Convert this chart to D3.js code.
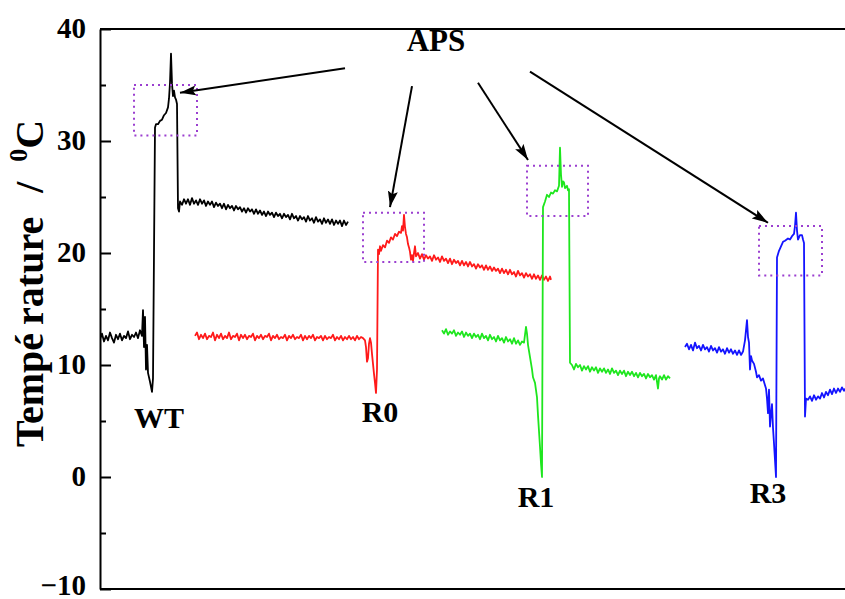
<!DOCTYPE html>
<html><head><meta charset="utf-8">
<script src="https://cdn.jsdelivr.net/npm/d3@7"></script>
<style>body{margin:0;background:#fff}svg{display:block}</style>
</head><body>
<svg id="chart" width="845" height="599"></svg>
<script>
// ---- data (time index, temperature °C) ----
const yTicks = [-10, 0, 10, 20, 30, 40];
const yMinorTicks = [-5, 5, 15, 25, 35];
const sampleNames = ["WT", "R0", "R1", "R3"];
const sampleColors = ["#000000", "#ff1a1a", "#1ee61e", "#1414ff"];

const wtData = [[0,12.3],[2,12.8],[4,12.1],[6,12.6],[8,12.2],[10,12.9],[12,12.4],[14,12.0],[16,12.7],[18,12.3],[20,12.8],[22,12.2],[24,12.6],[26,12.4],[28,13.0],[30,12.3],[32,12.7],[34,12.5],[36,12.9],[38,12.4],[40,13.1],[42,12.6],[43,14.9],[44,11.6],[45,14.3],[46,9.6],[47,11.8],[48,9.3],[50,8.5],[52,7.6],[53,8.8],[55,31.2],[56,31.5],[58,31.5],[60,31.8],[62,31.9],[64,32.3],[66,32.5],[68,33.0],[69,33.8],[70,35.2],[71,37.8],[72,35.1],[73,34.0],[74,34.5],[75,33.9],[76,33.7],[77,33.3],[78,24.0],[79,23.7],[80,24.6],[82,24.3],[84,24.8],[86,24.4],[88,24.8],[90,24.3],[92,24.9],[94,24.4],[96,24.7],[98,24.3],[100,24.8],[102,24.4],[104,24.7],[106,24.2],[108,24.6],[110,24.3],[112,24.6],[114,24.1],[116,24.5],[118,24.2],[120,24.4],[122,24.0],[124,24.4],[126,23.9],[128,24.3],[130,24.0],[132,24.2],[134,23.8],[136,24.2],[138,23.9],[140,24.1],[142,23.7],[144,24.0],[146,23.6],[148,24.0],[150,23.7],[152,23.9],[154,23.5],[156,23.9],[158,23.5],[160,23.8],[162,23.4],[164,23.7],[166,23.3],[168,23.7],[170,23.4],[172,23.6],[174,23.2],[176,23.6],[178,23.3],[180,23.5],[182,23.1],[184,23.5],[186,23.2],[188,23.4],[190,23.0],[192,23.5],[194,23.1],[196,23.3],[198,22.9],[200,23.3],[202,23.0],[204,23.2],[206,22.8],[208,23.3],[210,22.9],[212,23.1],[214,22.7],[216,23.2],[218,22.8],[220,23.0],[222,22.6],[224,23.1],[226,22.7],[228,23.0],[230,22.6],[232,23.0],[234,22.5],[236,22.9],[238,22.6],[240,22.9],[242,22.4],[244,22.9],[246,22.5],[248,22.8]];

const r0Data = [[95,12.6],[97,12.9],[99,12.3],[101,12.7],[103,12.4],[105,12.8],[107,12.3],[109,12.6],[111,12.5],[113,12.9],[115,12.2],[117,12.7],[119,12.4],[121,12.8],[123,12.3],[125,12.6],[127,12.4],[129,12.9],[131,12.3],[133,12.6],[135,12.5],[137,12.8],[139,12.2],[141,12.7],[143,12.4],[145,12.7],[147,12.3],[149,12.6],[151,12.5],[153,12.8],[155,12.2],[157,12.6],[159,12.4],[161,12.7],[163,12.3],[165,12.6],[167,12.5],[169,12.8],[171,12.2],[173,12.6],[175,12.4],[177,12.7],[179,12.3],[181,12.5],[183,12.4],[185,12.7],[187,12.2],[189,12.6],[191,12.4],[193,12.7],[195,12.3],[197,12.5],[199,12.4],[201,12.7],[203,12.2],[205,12.6],[207,12.3],[209,12.6],[211,12.4],[213,12.7],[215,12.2],[217,12.5],[219,12.4],[221,12.6],[223,12.2],[225,12.6],[227,12.3],[229,12.5],[231,12.4],[233,12.7],[235,12.2],[237,12.5],[239,12.3],[241,12.6],[243,12.2],[245,12.5],[247,12.3],[249,12.6],[251,12.3],[253,12.5],[255,12.2],[257,12.6],[259,12.3],[261,12.5],[263,12.4],[265,12.2],[266,11.6],[267,10.3],[268,10.6],[269,11.9],[270,12.4],[271,12.0],[272,11.0],[273,10.1],[274,9.2],[275,8.4],[276,7.5],[277,9.6],[278,20.3],[279,19.9],[280,20.6],[281,20.2],[283,20.7],[285,20.5],[287,21.1],[289,20.9],[291,21.4],[293,21.2],[295,21.7],[297,21.5],[299,21.9],[301,21.8],[302,22.4],[303,22.0],[304,23.4],[305,22.3],[306,21.7],[307,21.4],[308,20.8],[309,20.5],[310,20.1],[311,19.4],[312,19.8],[313,19.3],[314,20.0],[315,20.6],[316,19.7],[318,20.0],[320,19.5],[322,19.9],[324,19.4],[326,19.8],[328,19.5],[330,19.7],[332,19.3],[334,19.8],[336,19.4],[338,19.6],[340,19.2],[342,19.7],[344,19.3],[346,19.5],[348,19.1],[350,19.5],[352,19.0],[354,19.4],[356,19.1],[358,19.3],[360,18.9],[362,19.3],[364,18.9],[366,19.2],[368,18.8],[370,19.2],[372,18.8],[374,19.0],[376,18.6],[378,19.0],[380,18.7],[382,18.9],[384,18.5],[386,18.9],[388,18.5],[390,18.8],[392,18.4],[394,18.7],[396,18.4],[398,18.6],[400,18.2],[402,18.6],[404,18.2],[406,18.5],[408,18.1],[410,18.5],[412,18.1],[414,18.3],[416,17.9],[418,18.4],[420,18.0],[422,18.2],[424,17.8],[426,18.2],[428,17.9],[430,18.1],[432,17.7],[434,18.1],[436,17.7],[438,18.0],[440,17.6],[442,18.0],[444,17.6],[446,17.9],[448,17.5],[450,17.9],[451,17.6]];

const r1Data = [[342,13.1],[344,12.8],[346,13.2],[348,12.7],[350,13.0],[352,12.8],[354,13.1],[356,12.6],[358,12.9],[360,12.7],[362,13.0],[364,12.5],[366,12.9],[368,12.6],[370,12.8],[372,12.4],[374,12.8],[376,12.5],[378,12.7],[380,12.3],[382,12.8],[384,12.4],[386,12.6],[388,12.2],[390,12.7],[392,12.3],[394,12.5],[396,12.1],[398,12.6],[400,12.2],[402,12.4],[404,12.0],[406,12.5],[408,12.1],[410,12.3],[412,11.9],[414,12.4],[416,11.9],[418,12.2],[420,11.8],[422,12.1],[424,12.0],[426,13.4],[427,12.8],[428,11.8],[430,10.7],[432,9.6],[433,8.9],[435,8.4],[437,7.1],[438,5.5],[440,2.7],[441,1.2],[442,0.0],[443,24.1],[445,24.6],[447,25.2],[449,25.0],[451,25.4],[453,25.3],[455,25.6],[457,25.5],[459,26.0],[460,29.4],[461,27.0],[462,25.9],[463,26.4],[464,26.3],[465,25.8],[467,26.0],[468,25.6],[469,25.7],[470,10.2],[472,10.0],[474,9.6],[476,10.1],[478,9.8],[480,10.0],[482,9.5],[484,9.9],[486,9.6],[488,9.9],[490,9.4],[492,9.8],[494,9.5],[496,9.8],[498,9.3],[500,9.7],[502,9.4],[504,9.7],[506,9.3],[508,9.6],[510,9.2],[512,9.7],[514,9.3],[516,9.5],[518,9.1],[520,9.5],[522,9.2],[524,9.5],[526,9.0],[528,9.4],[530,9.1],[532,9.4],[534,9.0],[536,9.3],[538,8.9],[540,9.3],[542,9.0],[544,9.2],[546,8.8],[548,9.2],[550,8.9],[552,9.1],[554,8.7],[556,9.1],[558,7.9],[559,8.8],[560,9.0],[562,8.7],[564,9.1],[566,8.7],[568,9.0],[570,8.8]];

const r3Data = [[585,11.6],[587,11.9],[589,11.4],[591,11.8],[593,11.3],[595,12.0],[597,11.5],[599,11.7],[601,11.3],[603,11.8],[605,11.4],[607,11.6],[609,11.2],[611,11.7],[613,11.3],[615,11.5],[617,11.1],[619,11.6],[621,11.2],[623,11.4],[625,11.0],[627,11.5],[629,11.1],[631,11.4],[633,11.0],[635,11.3],[637,10.9],[639,11.3],[641,10.9],[643,11.2],[645,12.2],[647,14.0],[648,12.5],[649,12.0],[650,9.6],[651,10.8],[652,10.4],[654,10.1],[656,9.4],[657,8.9],[659,9.1],[661,8.6],[663,8.8],[665,8.2],[666,7.9],[667,7.0],[668,5.7],[669,7.8],[670,4.5],[671,5.6],[672,6.5],[673,4.4],[674,3.0],[675,1.5],[676,0.0],[677,19.6],[679,20.2],[680,20.4],[682,20.8],[683,21.0],[685,21.1],[688,21.3],[690,21.2],[692,21.5],[694,21.7],[695,22.4],[696,23.6],[697,22.0],[698,21.2],[700,21.6],[702,21.6],[703,21.2],[704,20.9],[705,5.4],[706,7.0],[708,6.9],[710,7.2],[712,6.8],[714,7.3],[716,6.9],[718,7.2],[720,7.0],[722,7.5],[724,7.1],[726,7.6],[728,7.3],[730,7.8],[732,7.4],[734,7.9],[736,7.5],[738,7.9],[740,7.6],[742,8.0],[744,7.7],[745,7.9]];

const seriesData = [wtData, r0Data, r1Data, r3Data];

// annotation anchors in data units
const labelAt = [[59, 4.4], [280, 4.9], [436, -2.7], [668, -2.3]];
const apsBoxes = [[34, 97, 35.0, 30.5], [263, 324, 23.6, 19.2], [427, 488, 27.8, 23.3], [659, 722, 22.4, 18.0]];
const apsArrows = [[245, 36.5, 80, 34.3], [312, 34.9, 290, 24.1], [378, 35.2, 428, 28.3], [430, 36.2, 668, 22.7]];
const apsLabelAt = [336, 38.0];

// ---- scales ----
const svg = d3.select("#chart");
const x = d3.scaleLinear().domain([0, 745]).range([100, 845]);
const y = d3.scaleLinear().domain([-10, 40]).range([589, 29]);
const serif = "'Liberation Serif','Times New Roman',serif";

svg.append("defs").append("clipPath").attr("id", "clip")
  .append("rect").attr("x", 100).attr("y", 29).attr("width", 745).attr("height", 560);

// frame top / bottom
svg.append("line").attr("x1", x(0)).attr("x2", 845).attr("y1", y(40)).attr("y2", y(40))
  .attr("stroke", "#000").attr("stroke-width", 2);
svg.append("line").attr("x1", x(0)).attr("x2", 845).attr("y1", y(-10)).attr("y2", y(-10))
  .attr("stroke", "#000").attr("stroke-width", 2);

// y axis (ticks inward)
const yAxis = svg.append("g").attr("transform", `translate(${x(0)},0)`)
  .call(d3.axisLeft(y).tickValues(yTicks).tickSizeInner(-11).tickSizeOuter(0).tickPadding(14).tickFormat(d3.format("d")));
yAxis.select(".domain").attr("stroke-width", 2);
yAxis.selectAll(".tick line").attr("stroke-width", 2);
yAxis.selectAll(".tick text").attr("font-family", serif).attr("font-weight", "bold")
  .attr("font-size", 29).attr("fill", "#000").attr("x", -14)
  .attr("dy", d => d === -10 ? "0.2em" : "0.3em");
const yMinor = svg.append("g").attr("transform", `translate(${x(0)},0)`)
  .call(d3.axisLeft(y).tickValues(yMinorTicks).tickSizeInner(-6).tickSizeOuter(0).tickFormat(""));
yMinor.select(".domain").remove();
yMinor.selectAll(".tick line").attr("stroke-width", 2);

// y title (starts at the bottom, reads upward)
const title = svg.append("text")
  .attr("transform", "translate(43,447) rotate(-90)")
  .attr("text-anchor", "start").attr("font-family", serif).attr("font-weight", "bold")
  .attr("font-size", 40).attr("fill", "#000");
title.append("tspan").text("Tempé");
title.append("tspan").attr("dx", 8).text("rature");
title.append("tspan").attr("dx", 24).text("/");
title.append("tspan").attr("dx", 20).attr("font-size", 26).attr("dy", -16).text("0");
title.append("tspan").attr("dy", 16).text("C");

// traces
const line = d3.line().x(d => x(d[0])).y(d => y(d[1]));
svg.append("g").attr("clip-path", "url(#clip)").selectAll("path").data(seriesData).join("path")
  .attr("d", line).attr("fill", "none")
  .attr("stroke", (d, i) => sampleColors[i]).attr("stroke-width", 1.8).attr("stroke-linejoin", "round");

// dotted APS boxes
svg.append("g").selectAll("rect").data(apsBoxes).join("rect")
  .attr("x", d => x(d[0])).attr("y", d => y(d[2]))
  .attr("width", d => x(d[1]) - x(d[0])).attr("height", d => y(d[3]) - y(d[2]))
  .attr("fill", "none").attr("stroke", "#9b3fd0").attr("stroke-width", 2)
  .attr("stroke-dasharray", "2,4");

// arrows
svg.select("defs").append("marker").attr("id", "arrow")
  .attr("markerUnits", "userSpaceOnUse").attr("viewBox", "0 0 16 10")
  .attr("markerWidth", 16).attr("markerHeight", 10).attr("refX", 16).attr("refY", 5)
  .attr("orient", "auto")
  .append("path").attr("d", "M0,0 L16,5 L0,10 L3,5 Z").attr("fill", "#000");
svg.append("g").selectAll("line").data(apsArrows).join("line")
  .attr("x1", d => x(d[0])).attr("y1", d => y(d[1]))
  .attr("x2", d => x(d[2])).attr("y2", d => y(d[3]))
  .attr("stroke", "#000").attr("stroke-width", 2).attr("marker-end", "url(#arrow)");

svg.append("text").attr("x", x(apsLabelAt[0])).attr("y", y(apsLabelAt[1]))
  .attr("text-anchor", "middle").attr("font-family", serif).attr("font-weight", "bold")
  .attr("font-size", 31).text("APS");

// sample labels
svg.append("g").selectAll("text").data(sampleNames).join("text")
  .attr("x", (d, i) => x(labelAt[i][0])).attr("y", (d, i) => y(labelAt[i][1]))
  .attr("text-anchor", "middle").attr("font-family", serif).attr("font-weight", "bold")
  .attr("font-size", 30).attr("fill", "#000").text(d => d);
</script>
</body></html>
